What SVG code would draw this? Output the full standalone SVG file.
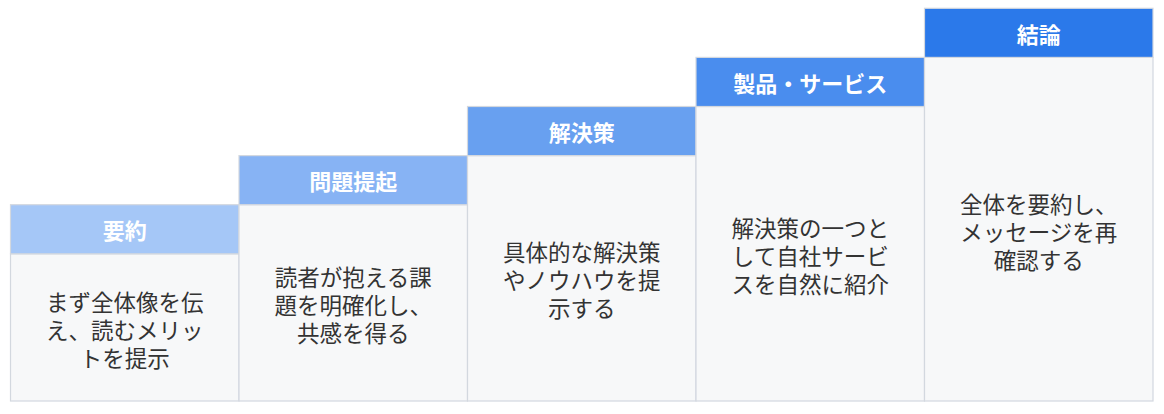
<svg xmlns="http://www.w3.org/2000/svg" width="1164" height="414" viewBox="0 0 1164 414">
<style>
.body{fill:#F7F8F9;stroke:#D3D8DF;stroke-width:1.2}
.head{stroke:#D3D8DF;stroke-width:1.2}
.ht{font-family:"Noto Sans CJK JP","Noto Sans",sans-serif;font-size:22px;font-weight:700;fill:#FFFFFF;text-anchor:middle;dominant-baseline:central}
.bt{font-family:"Noto Sans CJK JP","Noto Sans",sans-serif;font-size:22.5px;fill:#333333;text-anchor:middle;dominant-baseline:central}
</style>
<rect width="1164" height="414" fill="#FFFFFF"/>
<g id="connectors"></g>
<g id="step1">
<rect class="body" x="10.5" y="253.8" width="228.5" height="147.2"/>
<rect class="head" x="10.5" y="204.7" width="228.5" height="49.1" fill="#A5C7F7"/>
<text class="ht" x="124.75" y="229.2">要約</text>
<text class="bt" x="124.75" y="301">まず全体像を伝</text>
<text class="bt" x="124.75" y="329">え、読むメリッ</text>
<text class="bt" x="124.75" y="357">トを提示</text>
</g>
<g id="step2">
<rect class="body" x="239" y="204.7" width="228.5" height="196.3"/>
<rect class="head" x="239" y="155.6" width="228.5" height="49.1" fill="#87B3F4"/>
<text class="ht" x="353.25" y="180.1">問題提起</text>
<text class="bt" x="353.25" y="276">読者が抱える課</text>
<text class="bt" x="353.25" y="304">題を明確化し、</text>
<text class="bt" x="353.25" y="332">共感を得る</text>
</g>
<g id="step3">
<rect class="body" x="467.5" y="155.6" width="228.5" height="245.4"/>
<rect class="head" x="467.5" y="106.5" width="228.5" height="49.1" fill="#68A0F0"/>
<text class="ht" x="581.75" y="131">解決策</text>
<text class="bt" x="581.75" y="251.3">具体的な解決策</text>
<text class="bt" x="581.75" y="279.3">やノウハウを提</text>
<text class="bt" x="581.75" y="307.3">示する</text>
</g>
<g id="step4">
<rect class="body" x="696" y="106.5" width="228.5" height="294.5"/>
<rect class="head" x="696" y="57.4" width="228.5" height="49.1" fill="#4A8DEE"/>
<text class="ht" x="810.25" y="81.9">製品・サービス</text>
<text class="bt" x="810.25" y="226.8">解決策の一つと</text>
<text class="bt" x="810.25" y="254.8">して自社サービ</text>
<text class="bt" x="810.25" y="282.8">スを自然に紹介</text>
</g>
<g id="step5">
<rect class="body" x="924.5" y="57.4" width="228.5" height="343.6"/>
<rect class="head" x="924.5" y="8.3" width="228.5" height="49.1" fill="#2B79EA"/>
<text class="ht" x="1038.75" y="32.8">結論</text>
<text class="bt" x="1038.75" y="202.5">全体を要約し、</text>
<text class="bt" x="1038.75" y="230.5">メッセージを再</text>
<text class="bt" x="1038.75" y="258.5">確認する</text>
</g>
</svg>
